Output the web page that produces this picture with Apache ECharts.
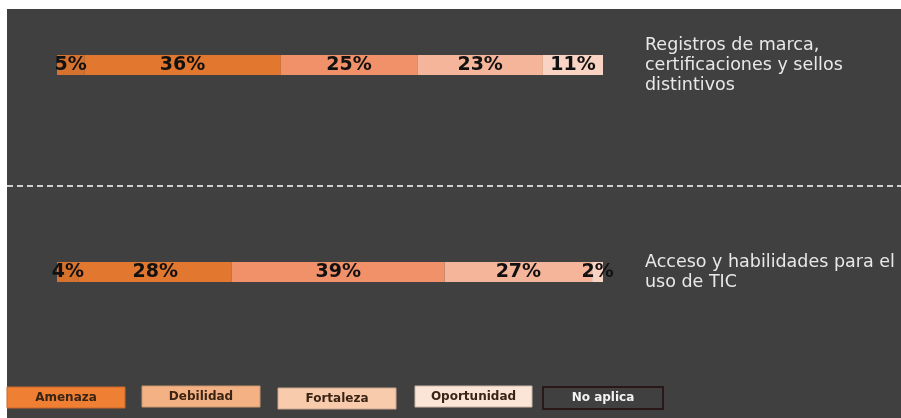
<!DOCTYPE html>
<html>
<head>
<meta charset="utf-8">
<script src="https://cdn.jsdelivr.net/npm/echarts@6/dist/echarts.min.js"></script>
<style>
html,body{margin:0;padding:0;background:#ffffff;}
#chart{width:901px;height:418px;}
</style>
</head>
<body>
<div id="chart"></div>
<script>
// Categories (top to bottom)
var categories = [
  'Registros de marca,\ncertificaciones y sellos\ndistintivos',
  'Acceso y habilidades para el\nuso de TIC'
];
// Segment values (percent) for each category, left to right
var segment1 = [5, 4];
var segment2 = [36, 28];
var segment3 = [25, 39];
var segment4 = [23, 27];
var segment5 = [11, 2];
var segmentNames = ['No aplica', 'Amenaza', 'Debilidad', 'Fortaleza', 'Oportunidad'];
var segmentColors = ['#D5722D', '#E2772F', '#F0916A', '#F4B59B', '#F9D4C4'];
// Legend entries
var legendNames = ['Amenaza', 'Debilidad', 'Fortaleza', 'Oportunidad', 'No aplica'];

var chart = echarts.init(document.getElementById('chart'), null, {renderer: 'canvas'});
var allSegments = [segment1, segment2, segment3, segment4, segment5];

var series = allSegments.map(function (vals, i) {
  return {
    name: segmentNames[i],
    type: 'bar',
    stack: 'total',
    data: vals,
    barWidth: 20,
    itemStyle: {color: segmentColors[i]},
    label: {
      show: true,
      position: 'inside',
      formatter: '{c}%',
      color: '#111111',
      fontFamily: 'DejaVu Sans',
      fontWeight: 'bold',
      fontSize: 19
    },
    emphasis: {disabled: true}
  };
});

var legendBoxes = [
  {x: 7, y: 387, w: 118, h: 21, fill: '#EE7F33', stroke: '#c9692a', text: '#3a2414'},
  {x: 142, y: 386, w: 118, h: 21, fill: '#F4B183', stroke: '#c99670', text: '#3a2414'},
  {x: 278, y: 388, w: 118, h: 21, fill: '#F8CBAD', stroke: '#c9a68e', text: '#3a2414'},
  {x: 415, y: 386, w: 117, h: 21, fill: '#FBE5D6', stroke: '#cbb8aa', text: '#3a2414'},
  {x: 543, y: 387, w: 120, h: 22, fill: '#404040', stroke: '#2a1818', text: '#f2f2f2'}
];

var graphics = [
  {type: 'rect', z: -10, silent: true, shape: {x: 7, y: 9, width: 894, height: 409}, style: {fill: '#404040'}},
  {type: 'line', z: -5, silent: true, shape: {x1: 7, y1: 186, x2: 901, y2: 186}, style: {stroke: '#d0d0d0', lineWidth: 2, lineDash: [6, 4]}}
];
legendBoxes.forEach(function (b, i) {
  graphics.push({
    type: 'rect', silent: true,
    shape: {x: b.x, y: b.y, width: b.w, height: b.h},
    style: {fill: b.fill, stroke: b.stroke, lineWidth: i === 4 ? 2 : 1}
  });
  graphics.push({
    type: 'text', silent: true,
    x: b.x + b.w / 2, y: b.y + b.h / 2,
    style: {
      text: legendNames[i], fill: b.text,
      font: 'bold 12px "DejaVu Sans"',
      align: 'center', verticalAlign: 'middle'
    }
  });
});

chart.setOption({
  animation: false,
  backgroundColor: 'transparent',
  grid: {left: 57, right: 298, top: -38.5, height: 414, containLabel: false, outerBoundsMode: 'none'},
  xAxis: {type: 'value', min: 0, max: 100, show: false},
  yAxis: {
    type: 'category',
    data: categories,
    inverse: true,
    position: 'right',
    axisLine: {show: false},
    axisTick: {show: false},
    splitLine: {show: false},
    axisLabel: {
      margin: 42,
      align: 'left',
      color: '#e8e8e8',
      fontFamily: 'DejaVu Sans',
      fontSize: 17.5,
      lineHeight: 20,
      padding: [6, 0, 0, 0]
    }
  },
  graphic: graphics,
  series: series
});
</script>
</body>
</html>
